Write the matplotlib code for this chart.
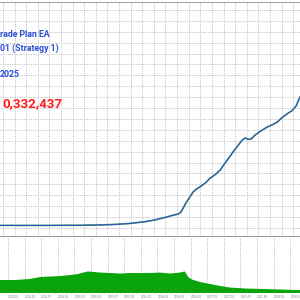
import numpy as np
import matplotlib
matplotlib.use("Agg")
import matplotlib.pyplot as plt

# ---- data (months from start, balance in millions) ----
eq_months = [0, 9.0, 11.7, 14.5, 18.1, 20.8, 23.5, 26.2, 28.0, 29.8, 31.1, 32.2, 32.7,
             33.1, 33.6, 34.3, 34.9, 35.4, 36.1, 37.1, 38.0, 38.9, 39.8, 40.3, 40.8,
             41.6, 42.1, 42.8, 43.4, 43.9, 44.3, 44.8, 45.4, 46.1, 47.0, 48.3, 49.3,
             50.1, 51.1, 52.1, 52.8, 53.5, 54.2]
eq_values = [0.01, 0.01, 0.02, 0.02, 0.05, 0.09, 0.17, 0.31, 0.45, 0.65, 0.81, 0.93, 1.09,
             1.41, 1.82, 2.30, 2.70, 2.90, 3.10, 3.42, 3.82, 4.10, 4.47, 4.79, 5.11,
             5.59, 5.91, 6.31, 6.67, 6.92, 7.04, 6.92, 6.96, 7.28, 7.56, 7.92, 8.12,
             8.32, 8.72, 9.04, 9.24, 9.61, 10.33]

load_months = [0, 2.7, 5.4, 7.2, 10.8, 13.6, 15.9, 18.1, 19.9, 21.7, 23.5, 25.3, 27.1,
               28.9, 30.7, 32.5, 33.4, 34.0, 34.7, 36.1, 38.0, 39.8, 41.6, 44.3, 47.0,
               50.6, 54.2]
load_values = [9.3, 9.3, 10.0, 11.4, 12.1, 13.2, 15.4, 14.6, 14.3, 13.9, 14.3, 14.3, 14.3,
               14.6, 13.9, 14.6, 15.4, 11.4, 9.6, 7.9, 6.4, 5.0, 3.9, 3.2, 2.9,
               2.5, 2.1]

tick_labels = ["2014.01", "2014.04", "2014.07", "2014.10", "2015.01", "2015.04",
               "2015.07", "2015.10", "2016.01", "2016.04", "2016.07", "2016.10",
               "2017.01", "2017.04", "2017.07", "2017.10", "2018.01", "2018.04"]

title_lines = ["rade Plan EA", "01 (Strategy 1)", "2025"]
profit_text = "0,332,437"

# ---- figure ----
fig = plt.figure(figsize=(3, 3), dpi=100)
fig.patch.set_facecolor("white")

X_MAX = 54.2
grid_color = "#c4c4c4"

ax = fig.add_axes([0, 63/300, 1, 235/300])
ax.set_xlim(0, X_MAX)
ax.set_ylim(-0.92, 17.96)
ax.set_xticks(np.arange(0.54, X_MAX, 2.097))
ax.set_yticks(np.arange(17.32, -0.9, -0.8755))
ax.grid(True, color=grid_color, linestyle=(0, (1.2, 1.2)), linewidth=0.7)
ax.tick_params(length=0, labelbottom=False, labelleft=False)
for s in ["left", "right"]:
    ax.spines[s].set_visible(False)
ax.spines["top"].set_color("#a8a8a8")
ax.spines["top"].set_linewidth(0.8)
ax.spines["bottom"].set_color("#7a7a7a")
ax.spines["bottom"].set_linewidth(1.1)
ax.plot(eq_months, eq_values, color="#45a84a", lw=1.2, solid_joinstyle="round")
ax.plot(eq_months, eq_values, color="#3350c8", lw=0.8, solid_joinstyle="round")

bx = fig.add_axes([0, 7/300, 1, 56/300])
bx.set_xlim(0, X_MAX)
bx.set_ylim(0, 40)
bx.fill_between(load_months, 0, load_values, color="#0aa50a", linewidth=0)
ticks = np.arange(1.45, X_MAX, 3.0)
bx.set_xticks(ticks)
bx.set_xticklabels(tick_labels[:len(ticks)], fontsize=2, color="#777777", ha="left")
bx.set_yticks([])
bx.grid(True, axis="x", color=grid_color, linestyle=(0, (1.2, 1.2)), linewidth=0.7)
bx.set_axisbelow(True)
bx.tick_params(length=0, pad=1.2)
for s in ["left", "right", "bottom", "top"]:
    bx.spines[s].set_visible(False)

blue = "#2a4fd6"
fam = ["Roboto", "DejaVu Sans"]
fig.text(0.0, 1 - 37/300, title_lines[0], color=blue, fontsize=6.3, fontweight="bold",
         family=fam, va="baseline", ha="left")
fig.text(0.0, 1 - 51/300, title_lines[1], color=blue, fontsize=6.3, fontweight="bold",
         family=fam, va="baseline", ha="left")
fig.text(0.0, 1 - 77/300, title_lines[2], color=blue, fontsize=6.3, fontweight="bold",
         family=fam, va="baseline", ha="left")
fig.text(2/300, 1 - 107.5/300, profit_text, color="#ff1f1f", fontsize=9.6,
         fontweight="bold", family=fam, va="baseline", ha="left")

fig.savefig("out.png", dpi=100, facecolor="white")
